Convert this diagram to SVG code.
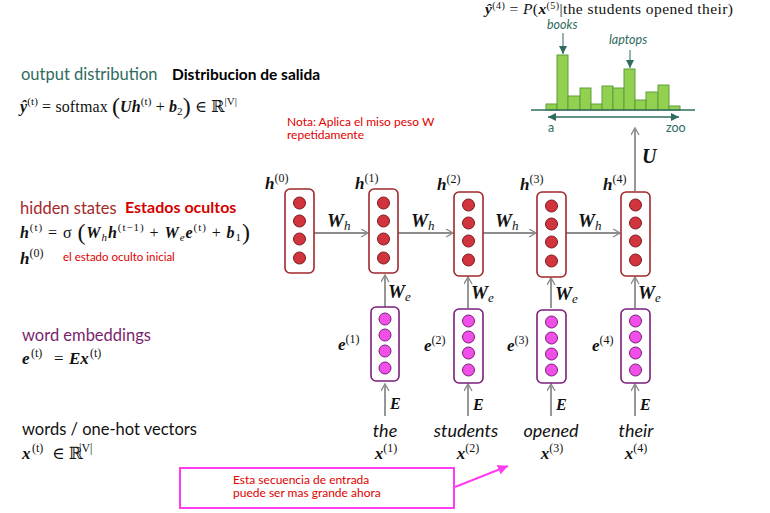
<svg xmlns="http://www.w3.org/2000/svg" width="770" height="513" viewBox="0 0 770 513">
<defs>
<style>
.m{font-family:"Liberation Serif","DejaVu Serif",serif;fill:#111}
.bi{font-weight:bold;font-style:italic}
.it{font-style:italic}
.lbl{font-family:Lato,"Open Sans",sans-serif}
.hbox{fill:#fff;stroke:#a0282d;stroke-width:1.6}
.hc{fill:#d1343c;stroke:#7a1a1e;stroke-width:1}
.ebox{fill:#fff;stroke:#7a1f7a;stroke-width:1.6}
.ec{fill:#f24ee8;stroke:#7a1f7a;stroke-width:1}
.arr{stroke:#8c8c8c;stroke-width:1.8;fill:none;marker-end:url(#chev)}
.red{font-family:Lato,"Open Sans",sans-serif;fill:#e00000}
.word{font-family:Lato,"Open Sans",sans-serif;font-style:italic;font-size:18px;fill:#111}
.bar{fill:#92d050;stroke:#5f9e3a;stroke-width:1}
.teal{fill:#2f6b5f}
</style>
<marker id="chev" markerUnits="userSpaceOnUse" markerWidth="10" markerHeight="10" refX="8" refY="4.5" orient="auto">
<path d="M1,0.5 L8,4.5 L1,8.5" fill="none" stroke="#8c8c8c" stroke-width="1.4"/>
</marker>
<marker id="tealhead" markerUnits="userSpaceOnUse" markerWidth="10" markerHeight="10" refX="8" refY="4" orient="auto-start-reverse">
<path d="M0,0 L8,4 L0,8 z" fill="#2f6b5f"/>
</marker>
<marker id="pinkhead" markerUnits="userSpaceOnUse" markerWidth="12" markerHeight="12" refX="10" refY="5" orient="auto">
<path d="M0,0 L10,5 L0,10 z" fill="#ff3df0"/>
</marker>
</defs>
<rect width="770" height="513" fill="#fff"/>

<!-- left legend -->
<g id="legend-output">
<text x="21" y="80" class="lbl" font-size="16.5" fill="#2f6b5f">output distribution</text>
<text x="172" y="80" class="lbl" font-size="15.5" font-weight="bold" fill="#000">Distribucion de salida</text>
<text x="20" y="112" class="m" font-size="16" textLength="217" lengthAdjust="spacing"><tspan class="bi">ŷ</tspan><tspan dy="-7" font-size="11">(t)</tspan><tspan dy="7"> = softmax </tspan><tspan font-size="24" dy="2">(</tspan><tspan dy="-2" class="bi">Uh</tspan><tspan dy="-7" font-size="11">(t)</tspan><tspan dy="7"> + </tspan><tspan class="bi">b</tspan><tspan dy="3" font-size="11">2</tspan><tspan dy="-1" font-size="24">)</tspan><tspan dy="-2"> ∈ ℝ</tspan><tspan dy="-7" font-size="11">|V|</tspan></text>
</g>
<g id="legend-hidden">
<text x="20" y="214" class="lbl" font-size="16.5" fill="#a32a2a">hidden states</text>
<text x="125" y="213" class="lbl" font-size="16" font-weight="bold" fill="#d40000">Estados ocultos</text>
<text x="20" y="238" class="m" font-size="16" textLength="230" lengthAdjust="spacing"><tspan class="bi">h</tspan><tspan dy="-7" font-size="11">(t)</tspan><tspan dy="7"> = σ </tspan><tspan font-size="24" dy="2">(</tspan><tspan dy="-2" class="bi">W</tspan><tspan dy="3" font-size="11" class="it">h</tspan><tspan dy="-3" class="bi">h</tspan><tspan dy="-7" font-size="11">(t−1)</tspan><tspan dy="7"> + </tspan><tspan class="bi">W</tspan><tspan dy="3" font-size="11" class="it">e</tspan><tspan dy="-3" class="bi">e</tspan><tspan dy="-7" font-size="11">(t)</tspan><tspan dy="7"> + </tspan><tspan class="bi">b</tspan><tspan dy="3" font-size="11">1</tspan><tspan dy="-1" font-size="24">)</tspan></text>
<text x="20" y="264" class="m" font-size="17"><tspan class="bi">h</tspan><tspan dy="-7" font-size="12">(0)</tspan></text>
<text x="63" y="261" class="red" font-size="11.5">el estado oculto inicial</text>
</g>
<g id="legend-embed">
<text x="22" y="341" class="lbl" font-size="16.5" fill="#7a1f6e">word embeddings</text>
<text y="364" class="m" font-size="17"><tspan x="22" class="bi">e</tspan><tspan x="31" dy="-7" font-size="12">(t)</tspan><tspan x="54" dy="7">=</tspan><tspan x="69" class="bi">Ex</tspan><tspan x="90" dy="-7" font-size="12">(t)</tspan></text>
</g>
<g id="legend-words">
<text x="22" y="435" class="lbl" font-size="16.5" fill="#111">words / one-hot vectors</text>
<text y="459" class="m" font-size="17"><tspan x="22" class="bi">x</tspan><tspan x="32" dy="-7" font-size="12">(t)</tspan><tspan x="52" dy="7">∈ ℝ</tspan><tspan x="79" dy="-7" font-size="12">|V|</tspan></text>
</g>

<g id="note-weights">
<text x="287" y="126" class="red" font-size="12">Nota: Aplica el miso peso W</text>
<text x="287" y="139" class="red" font-size="12">repetidamente</text>
</g>

<!-- connectors -->
<g id="connectors">
<line x1="314" y1="233" x2="368" y2="233" class="arr"/>
<line x1="398" y1="233" x2="453" y2="233" class="arr"/>
<line x1="483" y1="233" x2="536" y2="233" class="arr"/>
<line x1="566" y1="233" x2="620" y2="233" class="arr"/>
<line x1="385" y1="308" x2="385" y2="275" class="arr"/>
<line x1="468" y1="308" x2="468" y2="277" class="arr"/>
<line x1="551" y1="308" x2="551" y2="278" class="arr"/>
<line x1="635" y1="308" x2="635" y2="277" class="arr"/>
<line x1="385" y1="416" x2="385" y2="384" class="arr"/>
<line x1="468" y1="416" x2="468" y2="384" class="arr"/>
<line x1="551" y1="416" x2="551" y2="384" class="arr"/>
<line x1="635" y1="416" x2="635" y2="384" class="arr"/>
<line x1="635" y1="191" x2="635" y2="128" class="arr"/>
<g class="m" font-size="19">
<text x="327" y="227"><tspan class="bi">W</tspan><tspan dy="3" font-size="13" class="it">h</tspan></text>
<text x="411" y="227"><tspan class="bi">W</tspan><tspan dy="3" font-size="13" class="it">h</tspan></text>
<text x="495" y="227"><tspan class="bi">W</tspan><tspan dy="3" font-size="13" class="it">h</tspan></text>
<text x="578" y="227"><tspan class="bi">W</tspan><tspan dy="3" font-size="13" class="it">h</tspan></text>
<text x="388" y="298"><tspan class="bi">W</tspan><tspan dy="3" font-size="13" class="it">e</tspan></text>
<text x="471" y="299"><tspan class="bi">W</tspan><tspan dy="3" font-size="13" class="it">e</tspan></text>
<text x="555" y="300"><tspan class="bi">W</tspan><tspan dy="3" font-size="13" class="it">e</tspan></text>
<text x="638" y="299"><tspan class="bi">W</tspan><tspan dy="3" font-size="13" class="it">e</tspan></text>
<text x="390" y="409" font-size="16" class="bi">E</text>
<text x="473" y="410" font-size="16" class="bi">E</text>
<text x="556" y="410" font-size="16" class="bi">E</text>
<text x="640" y="410" font-size="16" class="bi">E</text>
<text x="642" y="163" font-size="20" class="bi">U</text>
</g>
<line x1="455" y1="487" x2="508" y2="466" stroke="#ff3df0" stroke-width="2" marker-end="url(#pinkhead)"/>
</g>

<!-- hidden state nodes -->
<g id="h0">
<rect x="285" y="189" width="29" height="84" rx="5" class="hbox"/>
<circle cx="299.5" cy="203" r="6" class="hc"/><circle cx="299.5" cy="221" r="6" class="hc"/><circle cx="299.5" cy="239" r="6" class="hc"/><circle cx="299.5" cy="258" r="6" class="hc"/>
<text x="265" y="189" class="m" font-size="17"><tspan class="bi">h</tspan><tspan dy="-7" font-size="12">(0)</tspan></text>
</g>
<g id="h1">
<rect x="369" y="189" width="29" height="84" rx="5" class="hbox"/>
<circle cx="383.5" cy="203" r="6" class="hc"/><circle cx="383.5" cy="221" r="6" class="hc"/><circle cx="383.5" cy="239" r="6" class="hc"/><circle cx="383.5" cy="258" r="6" class="hc"/>
<text x="355" y="189" class="m" font-size="17"><tspan class="bi">h</tspan><tspan dy="-7" font-size="12">(1)</tspan></text>
</g>
<g id="h2">
<rect x="454" y="192" width="29" height="84" rx="5" class="hbox"/>
<circle cx="468.5" cy="205" r="6" class="hc"/><circle cx="468.5" cy="223" r="6" class="hc"/><circle cx="468.5" cy="241" r="6" class="hc"/><circle cx="468.5" cy="260" r="6" class="hc"/>
<text x="437" y="190" class="m" font-size="17"><tspan class="bi">h</tspan><tspan dy="-7" font-size="12">(2)</tspan></text>
</g>
<g id="h3">
<rect x="537" y="192" width="29" height="85" rx="5" class="hbox"/>
<circle cx="551.5" cy="206" r="6" class="hc"/><circle cx="551.5" cy="224" r="6" class="hc"/><circle cx="551.5" cy="242" r="6" class="hc"/><circle cx="551.5" cy="261" r="6" class="hc"/>
<text x="520" y="190" class="m" font-size="17"><tspan class="bi">h</tspan><tspan dy="-7" font-size="12">(3)</tspan></text>
</g>
<g id="h4">
<rect x="621" y="192" width="29" height="84" rx="5" class="hbox"/>
<circle cx="635.5" cy="205" r="6" class="hc"/><circle cx="635.5" cy="223" r="6" class="hc"/><circle cx="635.5" cy="241" r="6" class="hc"/><circle cx="635.5" cy="260" r="6" class="hc"/>
<text x="603" y="190" class="m" font-size="17"><tspan class="bi">h</tspan><tspan dy="-7" font-size="12">(4)</tspan></text>
</g>

<!-- embedding nodes -->
<g id="e1">
<rect x="371" y="307" width="28" height="74" rx="5" class="ebox"/>
<circle cx="385" cy="319" r="6" class="ec"/><circle cx="385" cy="335" r="6" class="ec"/><circle cx="385" cy="351" r="6" class="ec"/><circle cx="385" cy="368" r="6" class="ec"/>
<text x="338" y="350" class="m" font-size="17"><tspan class="bi">e</tspan><tspan dy="-7" font-size="12">(1)</tspan></text>
</g>
<g id="e2">
<rect x="454" y="309" width="29" height="74" rx="5" class="ebox"/>
<circle cx="468.5" cy="321" r="6" class="ec"/><circle cx="468.5" cy="337" r="6" class="ec"/><circle cx="468.5" cy="353" r="6" class="ec"/><circle cx="468.5" cy="370" r="6" class="ec"/>
<text x="424" y="351" class="m" font-size="17"><tspan class="bi">e</tspan><tspan dy="-7" font-size="12">(2)</tspan></text>
</g>
<g id="e3">
<rect x="537" y="310" width="29" height="73" rx="5" class="ebox"/>
<circle cx="551.5" cy="322" r="6" class="ec"/><circle cx="551.5" cy="338" r="6" class="ec"/><circle cx="551.5" cy="354" r="6" class="ec"/><circle cx="551.5" cy="370" r="6" class="ec"/>
<text x="507" y="351" class="m" font-size="17"><tspan class="bi">e</tspan><tspan dy="-7" font-size="12">(3)</tspan></text>
</g>
<g id="e4">
<rect x="621" y="309" width="29" height="74" rx="5" class="ebox"/>
<circle cx="635.5" cy="321" r="6" class="ec"/><circle cx="635.5" cy="337" r="6" class="ec"/><circle cx="635.5" cy="353" r="6" class="ec"/><circle cx="635.5" cy="370" r="6" class="ec"/>
<text x="592" y="351" class="m" font-size="17"><tspan class="bi">e</tspan><tspan dy="-7" font-size="12">(4)</tspan></text>
</g>

<!-- words -->
<g id="x1">
<text x="385" y="437" class="word" text-anchor="middle">the</text>
<text x="386" y="459" class="m" font-size="17" text-anchor="middle"><tspan class="bi">x</tspan><tspan dy="-7" font-size="12">(1)</tspan></text>
</g>
<g id="x2">
<text x="466" y="437" class="word" text-anchor="middle">students</text>
<text x="468" y="459" class="m" font-size="17" text-anchor="middle"><tspan class="bi">x</tspan><tspan dy="-7" font-size="12">(2)</tspan></text>
</g>
<g id="x3">
<text x="551" y="437" class="word" text-anchor="middle">opened</text>
<text x="552" y="459" class="m" font-size="17" text-anchor="middle"><tspan class="bi">x</tspan><tspan dy="-7" font-size="12">(3)</tspan></text>
</g>
<g id="x4">
<text x="636" y="437" class="word" text-anchor="middle">their</text>
<text x="636" y="459" class="m" font-size="17" text-anchor="middle"><tspan class="bi">x</tspan><tspan dy="-7" font-size="12">(4)</tspan></text>
</g>

<!-- output distribution histogram -->
<g id="output-dist">
<text x="485" y="14" class="m" font-size="15.5" textLength="248" lengthAdjust="spacing"><tspan class="bi">ŷ</tspan><tspan dy="-5" font-size="10">(4)</tspan><tspan dy="5"> = </tspan><tspan class="it">P</tspan><tspan>(</tspan><tspan class="bi">x</tspan><tspan dy="-5" font-size="10">(5)</tspan><tspan dy="5">|the students opened their)</tspan></text>
<rect x="546" y="104" width="11" height="6" class="bar"/>
<rect x="557" y="55" width="11" height="55" class="bar"/>
<rect x="568" y="96" width="12" height="14" class="bar"/>
<rect x="580" y="88" width="11" height="22" class="bar"/>
<rect x="591" y="104" width="11" height="6" class="bar"/>
<rect x="602" y="86" width="11" height="24" class="bar"/>
<rect x="613" y="88" width="11" height="22" class="bar"/>
<rect x="624" y="69" width="11" height="41" class="bar"/>
<rect x="635" y="100" width="11" height="10" class="bar"/>
<rect x="646" y="92" width="12" height="18" class="bar"/>
<rect x="658" y="85" width="11" height="25" class="bar"/>
<rect x="669" y="106" width="11" height="4" class="bar"/>
<line x1="531" y1="110" x2="695" y2="110" stroke="#2f6b5f" stroke-width="1.6"/>
<line x1="548" y1="117" x2="679" y2="117" stroke="#2f6b5f" stroke-width="1.6" marker-start="url(#tealhead)" marker-end="url(#tealhead)"/>
<line x1="563" y1="33" x2="563" y2="54" stroke="#5a8f86" stroke-width="1.3" marker-end="url(#tealhead)"/>
<line x1="630" y1="50" x2="630" y2="68" stroke="#5a8f86" stroke-width="1.3" marker-end="url(#tealhead)"/>
<text x="547" y="29" class="lbl teal" font-size="12.5" font-style="italic">books</text>
<text x="609" y="44" class="lbl teal" font-size="12.5" font-style="italic">laptops</text>
<text x="548" y="132" class="lbl teal" font-size="12.5">a</text>
<text x="666" y="132" class="lbl teal" font-size="12.5">zoo</text>
</g>

<!-- bottom note -->
<g id="note-sequence">
<rect x="180" y="468" width="274" height="40" fill="#fff" stroke="#ff3df0" stroke-width="2"/>
<text x="233" y="484" class="red" font-size="12">Esta secuencia de entrada</text>
<text x="233" y="497" class="red" font-size="12">puede ser mas grande ahora</text>
</g>
</svg>
